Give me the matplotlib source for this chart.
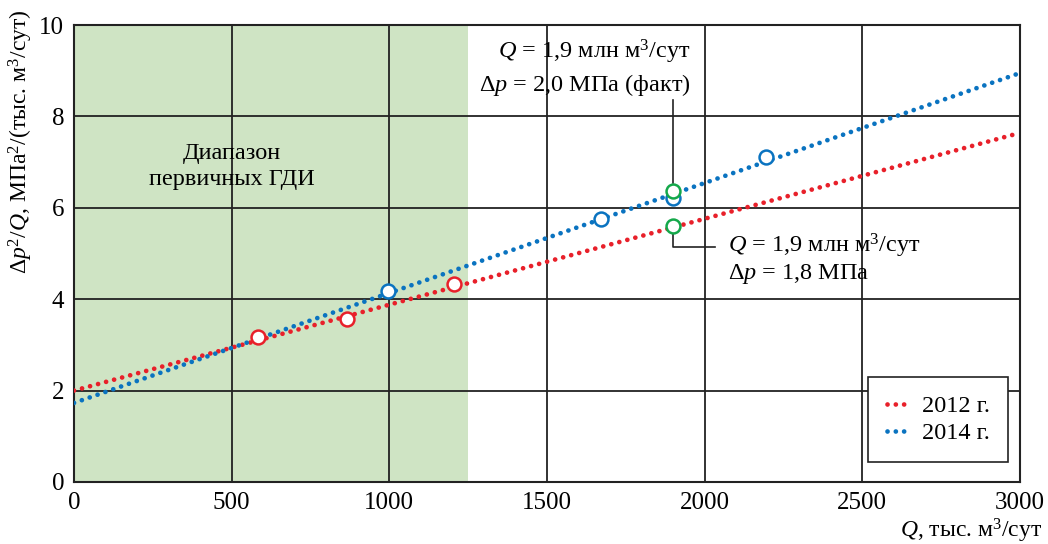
import numpy as np
import matplotlib
matplotlib.use("Agg")
import matplotlib.pyplot as plt

plt.rcParams['font.family'] = ['Liberation Serif', 'DejaVu Serif']
plt.rcParams['mathtext.fontset'] = 'custom'
plt.rcParams['mathtext.rm'] = 'Liberation Serif'
plt.rcParams['mathtext.it'] = 'Liberation Serif:italic'

# %% data
q_line = [0, 3000]
line_2012 = [2.0, 7.64]
line_2014 = [1.73, 8.95]

q_2012 = [585, 866, 1205]
y_2012 = [3.18, 3.56, 4.33]
q_2014 = [997, 1672, 1898, 2196]
y_2014 = [4.19, 5.75, 6.21, 7.11]
q_green = [1900, 1900]
y_green = [6.36, 5.60]

gdi_range = [0, 1250]
xticks = [0, 500, 1000, 1500, 2000, 2500, 3000]
yticks = [0, 2, 4, 6, 8, 10]

red = '#e8202a'
blue = '#0a73c0'
green = '#14a84a'
fs = 17.5

# %% plot
fig = plt.figure(figsize=(10.48, 5.44), dpi=100)
ax = fig.add_axes([0.0706, 0.114, 0.9027, 0.840])

ax.axvspan(gdi_range[0], gdi_range[1], color='#cfe4c4', zorder=0, lw=0)

for v in xticks[1:-1]:
    ax.axvline(v, color='#222222', lw=1.3, zorder=1)
for v in yticks[1:-1]:
    ax.axhline(v, color='#222222', lw=1.3, zorder=1)

ax.plot(q_line, line_2012, color=red, lw=3.4, ls=(0, (0.01, 1.75)),
        dash_capstyle='round', zorder=3, label='2012 г.')
ax.plot(q_line, line_2014, color=blue, lw=3.4, ls=(0, (0.01, 1.75)),
        dash_capstyle='round', zorder=3, label='2014 г.')

ax.plot(q_2012, y_2012, 'o', mfc='white', mec=red, mew=1.8, ms=10, zorder=4)
ax.plot(q_2014, y_2014, 'o', mfc='white', mec=blue, mew=1.8, ms=10, zorder=4)
ax.plot(q_green, y_green, 'o', mfc='white', mec=green, mew=1.8, ms=10, zorder=5)

ax.set_xlim(0, 3000)
ax.set_ylim(0, 10)
ax.set_xticks(xticks)
ax.set_yticks(yticks)
ax.tick_params(labelsize=18, length=0, pad=7)
for s in ax.spines.values():
    s.set_linewidth(1.5)
    s.set_color('#222222')

ax.set_ylabel(r'$\Delta p^2/Q$, МПа$^2$/(тыс. м$^3$/сут)', fontsize=17)
ax.yaxis.set_label_coords(-0.041, 0.745)
fig.text(0.994, 0.012, r'$Q$, тыс. м$^3$/сут', fontsize=17, ha='right', va='baseline')

ax.text(500, 6.9, 'Диапазон\nпервичных ГДИ', fontsize=fs, ha='center',
        va='center', linespacing=1.3)

# annotations
ax.text(1955, 9.41, r'$Q$ = 1,9 млн м$^3$/сут', fontsize=fs, ha='right', va='center',
        zorder=6)
ax.text(1955, 8.69, r'$\Delta p$ = 2,0 МПа (факт)', fontsize=fs, ha='right', va='center',
        zorder=6)
ax.plot([1900, 1900], [8.36, 6.55], color='#222222', lw=1.2, zorder=2)

ax.plot([1900, 1900, 2033], [5.42, 5.14, 5.14], color='#222222', lw=1.2, zorder=2)
ax.text(2074, 5.16, r'$Q$ = 1,9 млн м$^3$/сут', fontsize=fs, ha='left', va='center',
        zorder=6)
ax.text(2074, 4.55, r'$\Delta p$ = 1,8 МПа', fontsize=fs, ha='left', va='center',
        zorder=6)

leg = ax.legend(loc='lower right', bbox_to_anchor=(0.9875, 0.043), fontsize=fs,
                frameon=True, fancybox=False, handlelength=1.0, handletextpad=0.45,
                borderpad=0.75, labelspacing=0.2, borderaxespad=0)
leg.get_frame().set_edgecolor('#222222')
leg.get_frame().set_linewidth(1.2)
leg.get_frame().set_alpha(1)

fig.savefig('out.png', dpi=100)
